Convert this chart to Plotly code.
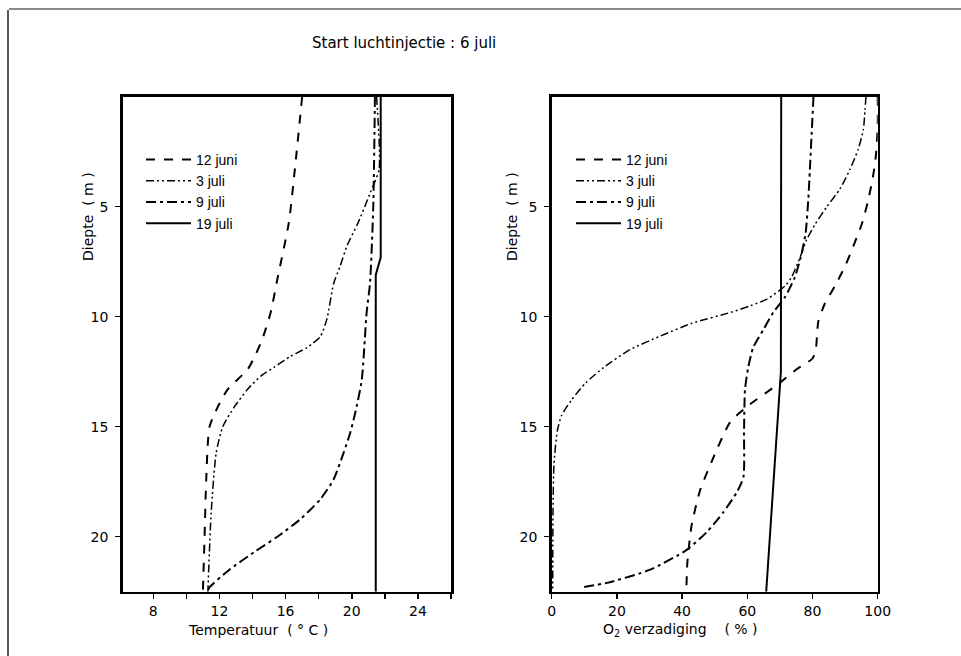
import plotly.graph_objects as go

# ---------------- data ----------------
series_names = ["12 juni", "3 juli", "9 juli", "19 juli"]

# Temperature profiles (depth in m, temperature in deg C)
t_juni12_depth = [0, 3, 5.7, 8.3, 9.8, 11.0, 11.7, 12.4, 13.3, 14.1, 15.0, 17.4, 20, 22.5]
t_juni12_val = [17.0, 16.6, 16.2, 15.5, 15.1, 14.6, 14.2, 13.7, 12.5, 11.9, 11.4, 11.2, 11.1, 11.0]

t_juli3_depth = [0, 3.3, 4.4, 5.7, 6.8, 7.7, 8.5, 10.1, 10.9, 11.4, 11.8, 12.3, 12.7, 13.3, 14.1, 15.0, 16.2, 18.9, 22.5]
t_juli3_val = [21.5, 21.65, 21.1, 20.4, 19.7, 19.3, 18.9, 18.5, 18.1, 17.3, 16.3, 15.3, 14.5, 13.7, 12.9, 12.2, 11.8, 11.5, 11.3]

t_juli9_depth = [0, 5, 8.5, 9.8, 12.9, 14.4, 15.3, 16.2, 17.4, 18.3, 19.2, 20.0, 20.7, 21.5, 22.3, 22.5]
t_juli9_val = [21.4, 21.3, 21.1, 20.9, 20.6, 20.2, 19.9, 19.5, 18.9, 18.1, 16.9, 15.5, 14.1, 12.6, 11.4, 11.3]

t_juli19_depth = [0, 7.3, 8.1, 22.5]
t_juli19_val = [21.75, 21.75, 21.45, 21.45]

# O2 saturation profiles (depth in m, saturation in %)
o_juni12_depth = [0, 1.3, 2.6, 3.5, 4.7, 5.8, 6.8, 7.7, 8.6, 9.4, 10.2, 10.6, 11.5, 11.9, 12.4, 13.0, 14.1, 14.8, 16.4, 17.9, 19.5, 21.2, 22.5]
o_juni12_val = [100, 100, 99.5, 98.7, 97.1, 95.1, 92.5, 90, 86.9, 83.8, 81.8, 81.5, 81.0, 80.0, 75, 70, 59.8, 54.7, 49.6, 45.5, 42.9, 41.6, 41.3]

o_juli3_depth = [0, 0.6, 1.5, 2.4, 3.3, 4.2, 5.0, 5.8, 6.5, 7.3, 8.2, 8.6, 9.2, 9.5, 9.8, 10.3, 10.9, 11.5, 12.3, 13.0, 13.8, 14.5, 15.2, 16.7, 18.9, 22.5]
o_juli3_val = [96.4, 96.1, 95.6, 94.0, 91.5, 88.4, 84.4, 80.8, 78.2, 76.2, 73.6, 71.6, 66, 61, 55, 43, 33, 24, 16, 10.5, 6, 3, 1.7, 0.7, 0.4, 0.3]

o_juli9_depth = [0, 3.3, 4.7, 6.2, 7.1, 8.2, 9.1, 9.8, 10.6, 11.4, 12.3, 13.3, 15.2, 17.3, 18.0, 18.9, 19.8, 20.6, 21.5, 22.1, 22.3]
o_juli9_val = [80.3, 79.2, 78.7, 77.9, 76.7, 74.6, 71.6, 68, 64.9, 61.8, 60.3, 59.3, 59.0, 58.8, 56.7, 52.6, 47.5, 41.4, 30.2, 16.9, 9.2]

o_juli19_depth = [0, 12.5, 22.5]
o_juli19_val = [70.4, 70.3, 65.8]

temp_ticks = [8, 12, 16, 20, 24]
o2_ticks = [0, 20, 40, 60, 80, 100]
depth_ticks = [5, 10, 15, 20]

# ---------------- styling ----------------
FONT = "DejaVu Sans"
LEG_FONT = "Liberation Sans"
W, H = 961, 656
dash_styles = ["dash", "8px,3px,2px,3px,2px,3px", "10px,4px,3px,4px", "solid"]
widths = [2, 1.5, 2, 2]
shapes_line = ["spline", "spline", "spline", "linear"]


def px_x(p):
    return p / W


def px_y(p):
    return 1 - p / H


fig = go.Figure()

temp_sets = [(t_juni12_depth, t_juni12_val), (t_juli3_depth, t_juli3_val),
             (t_juli9_depth, t_juli9_val), (t_juli19_depth, t_juli19_val)]
o2_sets = [(o_juni12_depth, o_juni12_val), (o_juli3_depth, o_juli3_val),
           (o_juli9_depth, o_juli9_val), (o_juli19_depth, o_juli19_val)]

for i, (d, v) in enumerate(temp_sets):
    fig.add_trace(go.Scatter(
        x=v, y=d, mode="lines", name=series_names[i], hoverinfo="skip",
        line=dict(color="black", width=widths[i], dash=dash_styles[i],
                  shape=shapes_line[i], smoothing=0.6),
        xaxis="x", yaxis="y", legend="legend", cliponaxis=True))

for i, (d, v) in enumerate(o2_sets):
    fig.add_trace(go.Scatter(
        x=v, y=d, mode="lines", name=series_names[i], hoverinfo="skip",
        line=dict(color="black", width=widths[i], dash=dash_styles[i],
                  shape=shapes_line[i], smoothing=0.6),
        xaxis="x2", yaxis="y2", legend="legend2", cliponaxis=True))

axis_common = dict(showline=True, linecolor="black", linewidth=2.5, mirror=True,
                   showgrid=False, zeroline=False, ticks="outside", ticklen=5,
                   tickwidth=1.5, tickcolor="black", automargin=False,
                   fixedrange=True,
                   tickfont=dict(family=FONT, size=14, color="black"))

ydom = [px_y(591.7), px_y(96.7)]

legend_common = dict(xanchor="left", yanchor="top", bgcolor="rgba(0,0,0,0)",
                     font=dict(family=LEG_FONT, size=14), tracegroupgap=0,
                     itemwidth=45)

fig.update_layout(
    width=W, height=H, autosize=False,
    margin=dict(l=0, r=0, t=0, b=0, autoexpand=False),
    paper_bgcolor="white", plot_bgcolor="white",
    font=dict(family=FONT, size=13, color="black"),
    xaxis=dict(domain=[px_x(122.7), px_x(451)], range=[6.15, 26.0], anchor="y",
               tickvals=temp_ticks,
               minor=dict(tickmode="linear", tick0=6, dtick=2, ticks="outside",
                          ticklen=5, tickwidth=1.5, tickcolor="black"),
               **axis_common),
    yaxis=dict(domain=ydom, range=[22.5, 0], anchor="x", tickvals=depth_ticks,
               ticklabelstandoff=4, **axis_common),
    xaxis2=dict(domain=[px_x(551.7), px_x(877.7)], range=[0, 100], anchor="y2",
                tickvals=o2_ticks, **axis_common),
    yaxis2=dict(domain=ydom, range=[22.5, 0], anchor="x2", tickvals=depth_ticks,
                ticklabelstandoff=4, **axis_common),
    legend=dict(x=px_x(141), y=px_y(144), **legend_common),
    legend2=dict(x=px_x(571), y=px_y(144), **legend_common),
    showlegend=True,
)

ann_common = dict(xref="paper", yref="paper", showarrow=False,
                  xanchor="center", yanchor="middle")
annotations = [
    dict(text="Start luchtinjectie : 6 juli", x=px_x(404), y=px_y(43),
         font=dict(family=FONT, size=15), **ann_common),
    dict(text="Temperatuur  ( ° C )", x=px_x(258), y=px_y(630),
         font=dict(family=FONT, size=14), **ann_common),
    dict(text="O<sub>2</sub> verzadiging    ( % )", x=px_x(680), y=px_y(630),
         font=dict(family=FONT, size=14), **ann_common),
    dict(text="Diepte  ( m )", x=px_x(88), y=px_y(217), textangle=-90,
         font=dict(family=FONT, size=14), **ann_common),
    dict(text="Diepte  ( m )", x=px_x(512), y=px_y(217), textangle=-90,
         font=dict(family=FONT, size=14), **ann_common),
]
fig.update_layout(annotations=annotations)

# page frame lines (top and left)
fig.update_layout(shapes=[
    dict(type="line", xref="paper", yref="paper", x0=px_x(9), x1=1,
         y0=px_y(9), y1=px_y(9), line=dict(color="#666", width=1.5)),
    dict(type="line", xref="paper", yref="paper", x0=px_x(8), x1=px_x(8),
         y0=px_y(10), y1=0, line=dict(color="#222", width=1.5)),
])

fig.write_html("out.html", config={"displayModeBar": False, "staticPlot": True})
